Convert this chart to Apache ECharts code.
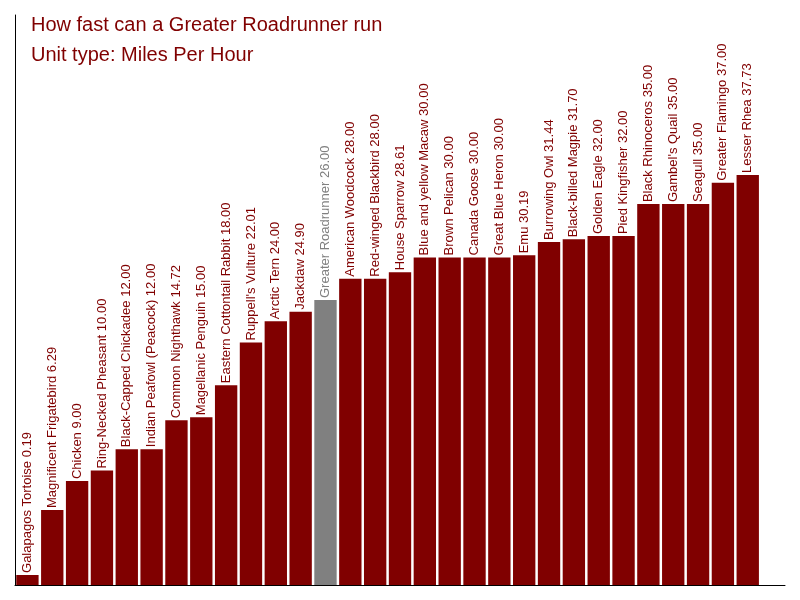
<!DOCTYPE html>
<html>
<head>
    <meta charset="utf-8"/>
    <script src="https://cdn.jsdelivr.net/npm/echarts@6/dist/echarts.min.js"></script>
</head>
<body style="margin:0">
<div id="main" style="width:800px;height:600px;"></div>
<script type="text/javascript">
    var chartDom = document.getElementById('main');
    var myChart = echarts.init(chartDom);
    var option;

    // categories and speeds (mph), already sorted
    var names = [
        'Galapagos Tortoise', 'Magnificent Frigatebird', 'Chicken', 'Ring-Necked Pheasant',
        'Black-Capped Chickadee', 'Indian Peafowl (Peacock)', 'Common Nighthawk', 'Magellanic Penguin',
        'Eastern Cottontail Rabbit', "Ruppell's Vulture", 'Arctic Tern', 'Jackdaw',
        'Greater Roadrunner', 'American Woodcock', 'Red-winged Blackbird', 'House Sparrow',
        'Blue and yellow Macaw', 'Brown Pelican', 'Canada Goose', 'Great Blue Heron',
        'Emu', 'Burrowing Owl', 'Black-billed Magpie', 'Golden Eagle',
        'Pied Kingfisher', 'Black Rhinoceros', "Gambel's Quail", 'Seagull',
        'Greater Flamingo', 'Lesser Rhea'
    ];
    var speeds = [
        0.19, 6.29, 9.00, 10.00,
        12.00, 12.00, 14.72, 15.00,
        18.00, 22.01, 24.00, 24.90,
        26.00, 28.00, 28.00, 28.61,
        30.00, 30.00, 30.00, 30.00,
        30.19, 31.44, 31.70, 32.00,
        32.00, 35.00, 35.00, 35.00,
        37.00, 37.73
    ];
    var highlight = 'Greater Roadrunner';

    // the value axis starts a little below zero and bars rise from its bottom
    var axisMin = -0.75;
    var axisMax = 52.75;

    var mainColor = '#800000';
    var greyColor = '#808080';

    function colorOf(n) {
        return n === highlight ? greyColor : mainColor;
    }

    // one empty slot at the end so the axis runs past the last bar
    var cats = names.concat(['']);
    var baseData = names.map(function (n) {
        return { value: axisMin, itemStyle: { color: colorOf(n) } };
    }).concat(['-']);
    var seriesData = names.map(function (n, i) {
        return {
            value: speeds[i],
            itemStyle: { color: colorOf(n) },
            label: { color: colorOf(n) }
        };
    }).concat(['-']);

    option = {
        animation: false,
        title: {
            text: 'How fast can a Greater Roadrunner run\nUnit type: Miles Per Hour',
            left: 26,
            top: 5,
            textStyle: {
                color: mainColor,
                fontFamily: 'Liberation Sans, Arial, sans-serif',
                fontWeight: 'normal',
                fontSize: 20,
                lineHeight: 30
            }
        },
        grid: { left: 15, right: 15, top: 15, bottom: 15 },
        xAxis: {
            type: 'category',
            data: cats,
            axisLine: { show: true, onZero: false, lineStyle: { color: '#000', width: 1 } },
            axisTick: { show: false },
            axisLabel: { show: false }
        },
        yAxis: {
            type: 'value',
            min: axisMin,
            max: axisMax,
            axisLine: { show: true, lineStyle: { color: '#000', width: 1 } },
            axisTick: { show: false },
            axisLabel: { show: false },
            splitLine: { show: false }
        },
        series: [
            {
                type: 'bar',
                stack: 'speed',
                data: baseData,
                barCategoryGap: '10%',
                silent: true
            },
            {
                type: 'bar',
                stack: 'speed',
                data: seriesData,
                barCategoryGap: '10%',
                label: {
                    show: true,
                    position: 'top',
                    rotate: 90,
                    align: 'left',
                    verticalAlign: 'middle',
                    distance: 2,
                    fontFamily: 'Liberation Sans, Arial, sans-serif',
                    fontSize: 13,
                    formatter: function (p) {
                        return p.name + ' ' + Number(p.value).toFixed(2);
                    }
                }
            }
        ]
    };

    option && myChart.setOption(option);
</script>
</body>
</html>
